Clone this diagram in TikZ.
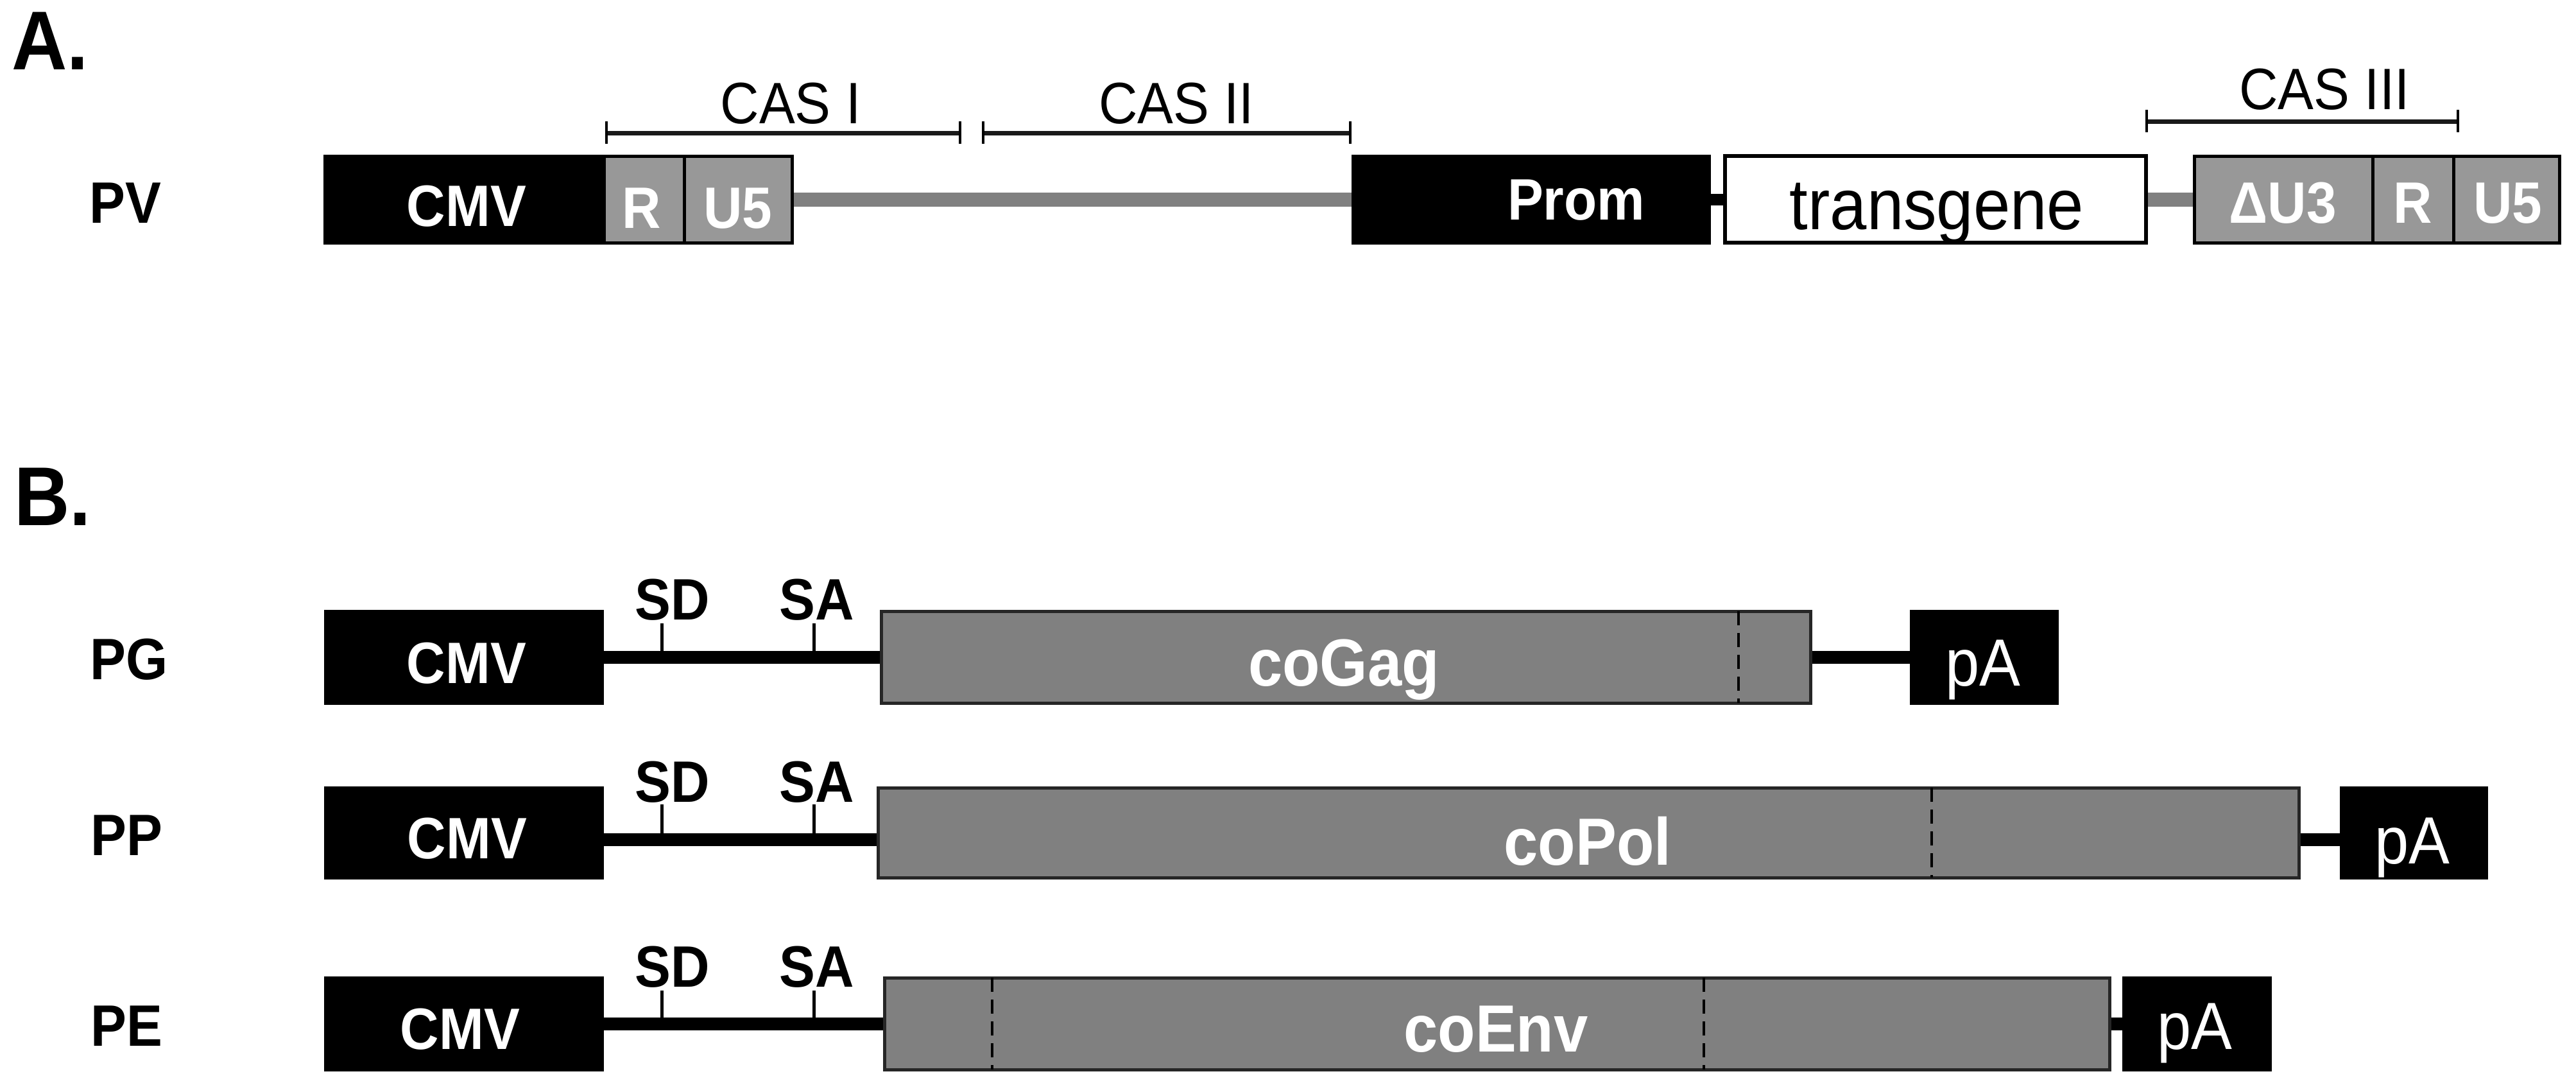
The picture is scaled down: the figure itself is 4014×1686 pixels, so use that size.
\documentclass[tikz,border=0pt]{standalone}
\usepackage{fontspec}
\setmainfont{Liberation Sans}[FakeStretch=0.92]
\definecolor{genegray}{RGB}{128,128,128}
\definecolor{ltrgray}{RGB}{152,152,152}
\definecolor{edgegray}{RGB}{38,38,38}
\pgfdeclarelayer{bg}
\pgfsetlayers{bg,main}
\newcommand{\myfPanel}{\fontsize{130}{140}\selectfont\bfseries}
\newcommand{\myfLab}{\fontsize{91}{100}\selectfont\bfseries}
\newcommand{\myfCas}{\fontsize{91}{100}\selectfont}
\newcommand{\myfTg}{\fontsize{112}{120}\selectfont}
\newcommand{\myfGene}{\fontsize{104}{112}\selectfont\bfseries}
\newcommand{\myfPA}{\fontsize{104}{112}\selectfont}
\begin{document}
\begin{tikzpicture}[x=1pt,y=-1pt,
  every node/.style={inner sep=0pt, outer sep=0pt},
  box/.style={draw=edgegray, line width=5pt, anchor=north west},
  blackbox/.style={box, fill=black, draw=black},
  ltrbox/.style={box, fill=ltrgray, draw=black},
  genebox/.style={box, fill=genegray},
  whitebox/.style={box, fill=white, draw=black, line width=6pt},
  rowlbl/.style={anchor=base, font=\myfLab},
  wlbl/.style={anchor=base, font=\myfLab, text=white},
  sitelbl/.style={anchor=base, font=\myfLab},
  caslbl/.style={anchor=base, font=\myfCas},
  genelbl/.style={anchor=base, font=\myfGene, text=white},
  palbl/.style={anchor=base, font=\myfPA, text=white},
  grayline/.style={line width=22pt, draw=genegray},
  blackline/.style={line width=20pt, draw=black},
  casbar/.style={line width=7pt, draw=black!90},
  sitetick/.style={line width=5pt, draw=black},
  dashline/.style={line width=4pt, draw=black, dash pattern=on 22pt off 12pt}
]
\useasboundingbox (0,0) rectangle (4014,1686);

% ---------------- Panel A ----------------
\node[anchor=base west, font=\myfPanel] (labA) at (18,108) {A.};
\node[rowlbl] (PV) at (195,347) {PV};

\node[blackbox, minimum width=435pt, minimum height=135pt] (pvcmv) at (506,243) {};
\node[ltrbox, minimum width=125pt, minimum height=135pt] (pvr) at (941,243) {};
\node[ltrbox, minimum width=168pt, minimum height=135pt] (pvu5) at (1066,243) {};
\node[blackbox, minimum width=555pt, minimum height=135pt] (prom) at (2108,243) {};
\node[whitebox, minimum width=656pt, minimum height=135pt] (tg) at (2688,243) {};
\node[ltrbox, minimum width=278pt, minimum height=135pt] (du3) at (3419,243) {};
\node[ltrbox, minimum width=126pt, minimum height=135pt] (r3) at (3697,243) {};
\node[ltrbox, minimum width=165pt, minimum height=135pt] (u53) at (3823,243) {};

\node[wlbl] (tcmvA) at (727,352) {CMV};
\node[wlbl] (trA) at (1000,355) {R};
\node[wlbl] (tu5A) at (1150,355) {U5};
\node[wlbl] (tprom) at (2456,342) {Prom};
\node[anchor=base, font=\myfTg] (ttg) at (3018,357) {transgene};
\node[wlbl] (tdu3) at (3557,347) {ΔU3};
\node[wlbl] (tr3) at (3760,347) {R};
\node[wlbl] (tu53) at (3908,347) {U5};

\begin{pgfonlayer}{bg}
\draw[grayline] (pvu5.east) -- (prom.west);
\draw[blackline, line width=18pt] (prom.east) -- (tg.west);
\draw[grayline] (tg.east) -- (du3.west);
\end{pgfonlayer}

% CAS bars
\coordinate (c1a) at (945,207);  \coordinate (c1b) at (1496,207);
\coordinate (c2a) at (1532,207); \coordinate (c2b) at (2104,207);
\coordinate (c3a) at (3345,189); \coordinate (c3b) at (3830,189);
\draw[casbar] (c1a) -- (c1b);
\draw[casbar] (c2a) -- (c2b);
\draw[casbar] (c3a) -- (c3b);
\foreach \c in {c1a,c1b,c2a,c2b,c3a,c3b}{
  \draw[sitetick, line width=4pt] ([yshift=18pt]\c) -- ([yshift=-17pt]\c);
}
\node[caslbl] (cas1) at (1232,192) {CAS I};
\node[caslbl] (cas2) at (1833,192) {CAS II};
\node[caslbl] (cas3) at (3622,170) {CAS III};

% ---------------- Panel B ----------------
\node[anchor=base west, font=\myfPanel] (labB) at (22,818) {B.};

% PG row
\node[rowlbl] (PG) at (201,1058) {PG};
\node[blackbox, minimum width=431pt, minimum height=143pt] (pgcmv) at (507,952) {};
\node[genebox, minimum width=1448pt, minimum height=143pt] (gag) at (1373,952) {};
\node[blackbox, minimum width=227pt, minimum height=143pt] (pgpa) at (2978,952) {};
\draw[dashline] ([xshift=1336pt]gag.north west) -- ([xshift=1336pt]gag.south west);
\node[wlbl] (tcmvG) at (727,1064) {CMV};
\node[genelbl] (tgag) at (2094,1068) {coGag};
\node[palbl] (tpaG) at (3090,1068) {pA};
\node[sitelbl] (sdG) at (1048,965) {SD};
\node[sitelbl] (saG) at (1273,965) {SA};
\coordinate (sdGt) at (1031,971); \coordinate (sdGb) at (1031,1023);
\coordinate (saGt) at (1268,971); \coordinate (saGb) at (1268,1023);
\begin{pgfonlayer}{bg}
\draw[blackline] (pgcmv.east) -- (gag.west);
\draw[blackline] (gag.east) -- (pgpa.west);
\draw[sitetick] (sdGt) -- (sdGb);
\draw[sitetick] (saGt) -- (saGb);
\end{pgfonlayer}

% PP row
\node[rowlbl] (PP) at (197,1332) {PP};
\node[blackbox, minimum width=431pt, minimum height=140pt] (ppcmv) at (507,1227) {};
\node[genebox, minimum width=2214pt, minimum height=140pt] (pol) at (1368,1227) {};
\node[blackbox, minimum width=226pt, minimum height=140pt] (pppa) at (3648,1227) {};
\draw[dashline] ([xshift=1642pt]pol.north west) -- ([xshift=1642pt]pol.south west);
\node[wlbl] (tcmvP) at (728,1337) {CMV};
\node[genelbl] (tpol) at (2474,1347) {coPol};
\node[palbl] (tpaP) at (3759,1345) {pA};
\node[sitelbl] (sdP) at (1048,1249) {SD};
\node[sitelbl] (saP) at (1273,1249) {SA};
\coordinate (sdPt) at (1031,1253); \coordinate (sdPb) at (1031,1308);
\coordinate (saPt) at (1268,1253); \coordinate (saPb) at (1268,1308);
\begin{pgfonlayer}{bg}
\draw[blackline] ([yshift=-11pt]ppcmv.east) -- ([yshift=-11pt]pol.west);
\draw[blackline] ([yshift=-11pt]pol.east) -- ([yshift=-11pt]pppa.west);
\draw[sitetick] (sdPt) -- (sdPb);
\draw[sitetick] (saPt) -- (saPb);
\end{pgfonlayer}

% PE row
\node[rowlbl] (PE) at (197,1629) {PE};
\node[blackbox, minimum width=431pt, minimum height=143pt] (pecmv) at (507,1523) {};
\node[genebox, minimum width=1909pt, minimum height=143pt] (env) at (1378,1523) {};
\node[blackbox, minimum width=228pt, minimum height=143pt] (pepa) at (3309,1523) {};
\draw[dashline] ([xshift=168pt]env.north west) -- ([xshift=168pt]env.south west);
\draw[dashline] ([xshift=1277pt]env.north west) -- ([xshift=1277pt]env.south west);
\node[wlbl] (tcmvE) at (717,1634) {CMV};
\node[genelbl] (tenv) at (2331,1638) {coEnv};
\node[palbl] (tpaE) at (3420,1634) {pA};
\node[sitelbl] (sdE) at (1048,1537) {SD};
\node[sitelbl] (saE) at (1273,1537) {SA};
\coordinate (sdEt) at (1031,1543); \coordinate (sdEb) at (1031,1594);
\coordinate (saEt) at (1268,1543); \coordinate (saEb) at (1268,1594);
\begin{pgfonlayer}{bg}
\draw[blackline] (pecmv.east) -- (env.west);
\draw[blackline] (env.east) -- (pepa.west);
\draw[sitetick] (sdEt) -- (sdEb);
\draw[sitetick] (saEt) -- (saEb);
\end{pgfonlayer}
\end{tikzpicture}
\end{document}
